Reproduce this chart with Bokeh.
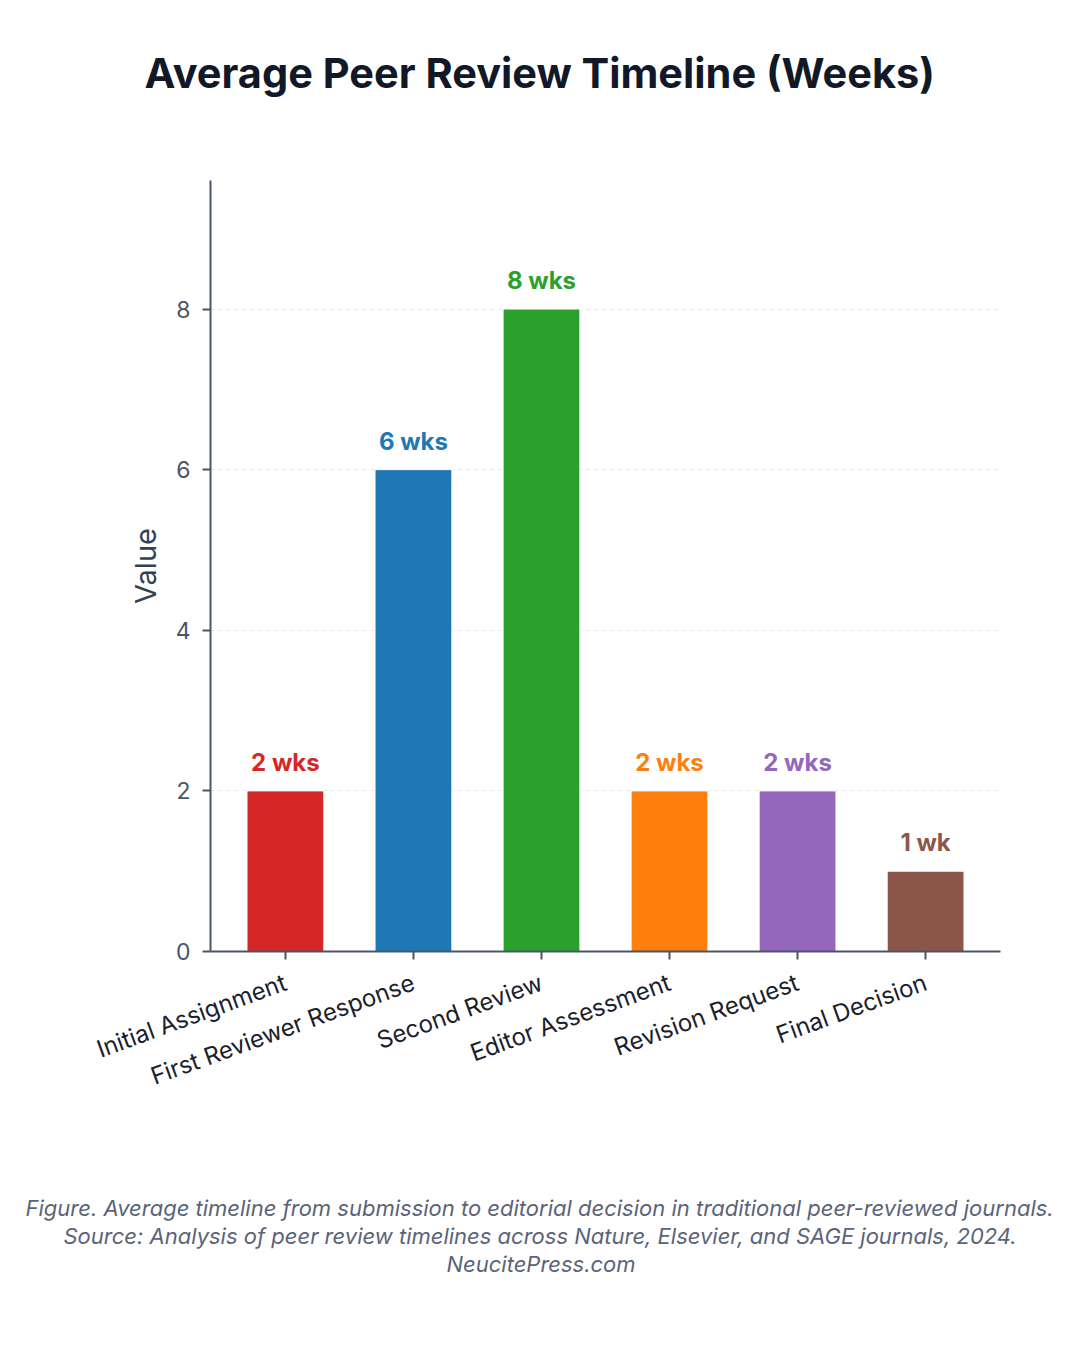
from bokeh.plotting import figure
from bokeh.models import ColumnDataSource, Title, FactorRange, Range1d, FixedTicker
from bokeh.core.properties import value
from bokeh.embed import file_html
from bokeh.resources import INLINE

# Data
stages = ['Initial Assignment', 'First Reviewer Response', 'Second Review',
          'Editor Assessment', 'Revision Request', 'Final Decision']
weeks = [2, 6, 8, 2, 2, 1]
value_labels = ['2 wks', '6 wks', '8 wks', '2 wks', '2 wks', '1 wk']
colors = ['#d62728', '#1f77b4', '#2ca02c', '#ff7f0e', '#9467bd', '#8c564b']
y_ticks = [0, 2, 4, 6, 8]

title_text = "Average Peer Review Timeline (Weeks)"
caption_lines = [
    "Figure. Average timeline from submission to editorial decision in traditional peer-reviewed journals.",
    "Source: Analysis of peer review timelines across Nature, Elsevier, and SAGE journals, 2024.",
    "NeucitePress.com",
]
# horizontal shift of each caption line from the frame's left edge (centres them on the page)
caption_offsets = [-185, -147, 236]

FONT = "Inter"
W, H = 1064, 1334

source = ColumnDataSource(dict(stage=stages, weeks=weeks, label=value_labels, color=colors))

x_range = FactorRange(*stages, range_padding=0.085, range_padding_units="absolute")
p = figure(x_range=x_range, y_range=Range1d(0, 9.6), width=W, height=H,
           output_backend="svg", toolbar_location=None,
           min_border_left=210, min_border_right=64, min_border_top=180, min_border_bottom=383)

p.vbar(x='stage', top='weeks', width=0.6, source=source, fill_color='color',
       line_color='white', line_width=1)

p.text(x='stage', y='weeks', text='label', source=source, text_color='color',
       text_align='center', text_baseline='bottom', y_offset=-14,
       text_font_size='24px', text_font_style='bold', text_font=value(FONT))

# Axes
axis_color = '#4a5568'
for ax in (p.xaxis[0], p.yaxis[0]):
    ax.axis_line_color = axis_color
    ax.axis_line_width = 2
    ax.major_tick_line_color = axis_color
    ax.major_tick_line_width = 2
    ax.major_tick_out = 8
    ax.major_tick_in = 0
    ax.minor_tick_line_color = None
    ax.major_label_text_font = FONT

p.yaxis.ticker = FixedTicker(ticks=y_ticks)
p.yaxis.major_label_text_font_size = '23px'
p.yaxis.major_label_text_color = axis_color
p.yaxis.major_label_standoff = 12
p.yaxis.axis_label = 'Value'
p.yaxis.axis_label_text_font = FONT
p.yaxis.axis_label_text_font_size = '29px'
p.yaxis.axis_label_text_font_style = 'normal'
p.yaxis.axis_label_text_color = '#334155'
p.yaxis.axis_label_standoff = 10

p.xaxis.major_label_orientation = 0.35
p.xaxis.major_label_text_font_size = '24px'
p.xaxis.major_label_text_color = '#1a202c'
p.xaxis.major_label_standoff = 22

p.xgrid.grid_line_color = None
p.ygrid.grid_line_color = '#e5e7eb'
p.ygrid.grid_line_dash = '4 4'
p.ygrid.grid_line_width = 1
p.outline_line_color = None

# Title: blank spacer next to the frame, then the heading above it
p.add_layout(Title(text=" ", text_font_size='22px', standoff=56), 'above')
p.add_layout(Title(text=title_text, align='left', offset=-66, standoff=0,
                   text_font=FONT, text_font_size='41.5px', text_font_style='bold',
                   text_color='#111827'), 'above')

# Caption below the axis: a blank spacer, then one line per title
p.add_layout(Title(text=" ", text_font_size='22px', standoff=58), 'below')
for line, off in zip(caption_lines, caption_offsets):
    cap = Title(text=line, align='left', offset=off, text_font=FONT, text_font_size='22px',
                text_font_style='italic', text_color='#5a6478', standoff=0)
    p.add_layout(cap, 'below')

open("out.html", "w").write(file_html(p, INLINE))
